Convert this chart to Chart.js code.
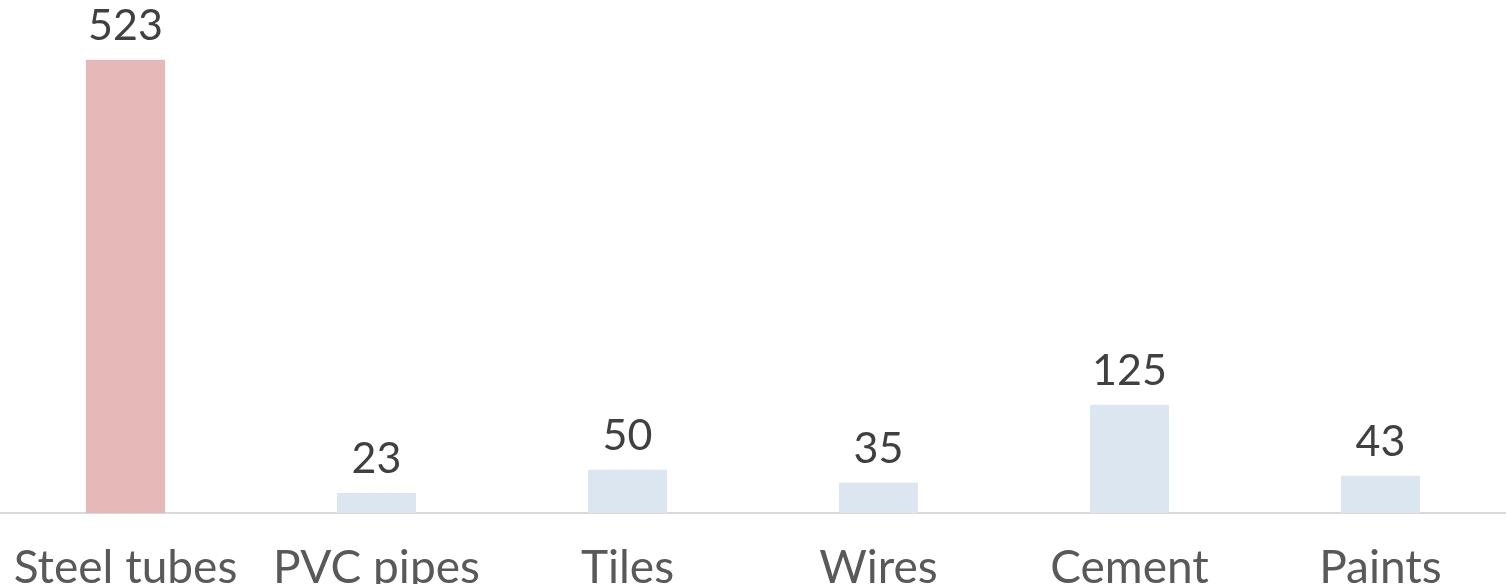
<!DOCTYPE html>
<html>
<head>
<meta charset="utf-8">
<script src="https://cdn.jsdelivr.net/npm/chart.js@4.4.0/dist/chart.umd.min.js"></script>
<style>
  html, body { margin: 0; padding: 0; background: #ffffff; overflow: hidden; }
  #wrap { width: 1506px; height: 610px; position: relative; }
</style>
</head>
<body>
<div id="wrap"><canvas id="chart"></canvas></div>
<script>
// Chart data
const categories = ['Steel tubes', 'PVC pipes', 'Tiles', 'Wires', 'Cement', 'Paints'];
const quantities = [523, 23, 50, 35, 125, 43];
const barColors = ['#e6b8b7', '#dce6f1', '#dce6f1', '#dce6f1', '#dce6f1', '#dce6f1'];

const FONT = 'Lato, "Open Sans", sans-serif';

// draws the value above every bar
const valueLabels = {
    id: 'valueLabels',
    afterDatasetsDraw(chart) {
        const ctx = chart.ctx;
        const meta = chart.getDatasetMeta(0);
        ctx.save();
        ctx.font = '43px ' + FONT;
        ctx.fillStyle = '#404040';
        ctx.textAlign = 'center';
        ctx.textBaseline = 'alphabetic';
        meta.data.forEach((bar, i) => {
            ctx.fillText(String(chart.data.datasets[0].data[i]), bar.x, bar.y - 20);
        });
        ctx.restore();
    }
};

const ctx = document.getElementById('chart').getContext('2d');
const chart = new Chart(ctx, {
    type: 'bar',
    data: {
        labels: categories,
        datasets: [{
            data: quantities,
            backgroundColor: barColors,
            borderWidth: 0,
            categoryPercentage: 1.0,
            barPercentage: 0.315
        }]
    },
    options: {
        responsive: true,
        maintainAspectRatio: false,
        animation: false,
        layout: { padding: 0 },
        scales: {
            x: {
                grid: { display: false },
                border: { display: true, color: '#d9d9d9', width: 2 },
                ticks: {
                    color: '#595959',
                    font: { family: FONT, size: 46 },
                    padding: 20,
                    maxRotation: 0,
                    autoSkip: false
                },
                afterFit(scale) {
                    scale.height = 97;
                    scale.paddingLeft = 0;
                    scale.paddingRight = 0;
                }
            },
            y: {
                display: false,
                min: 0,
                max: 592
            }
        },
        plugins: {
            legend: { display: false },
            tooltip: { enabled: false }
        }
    },
    plugins: [valueLabels]
});
</script>
</body>
</html>
